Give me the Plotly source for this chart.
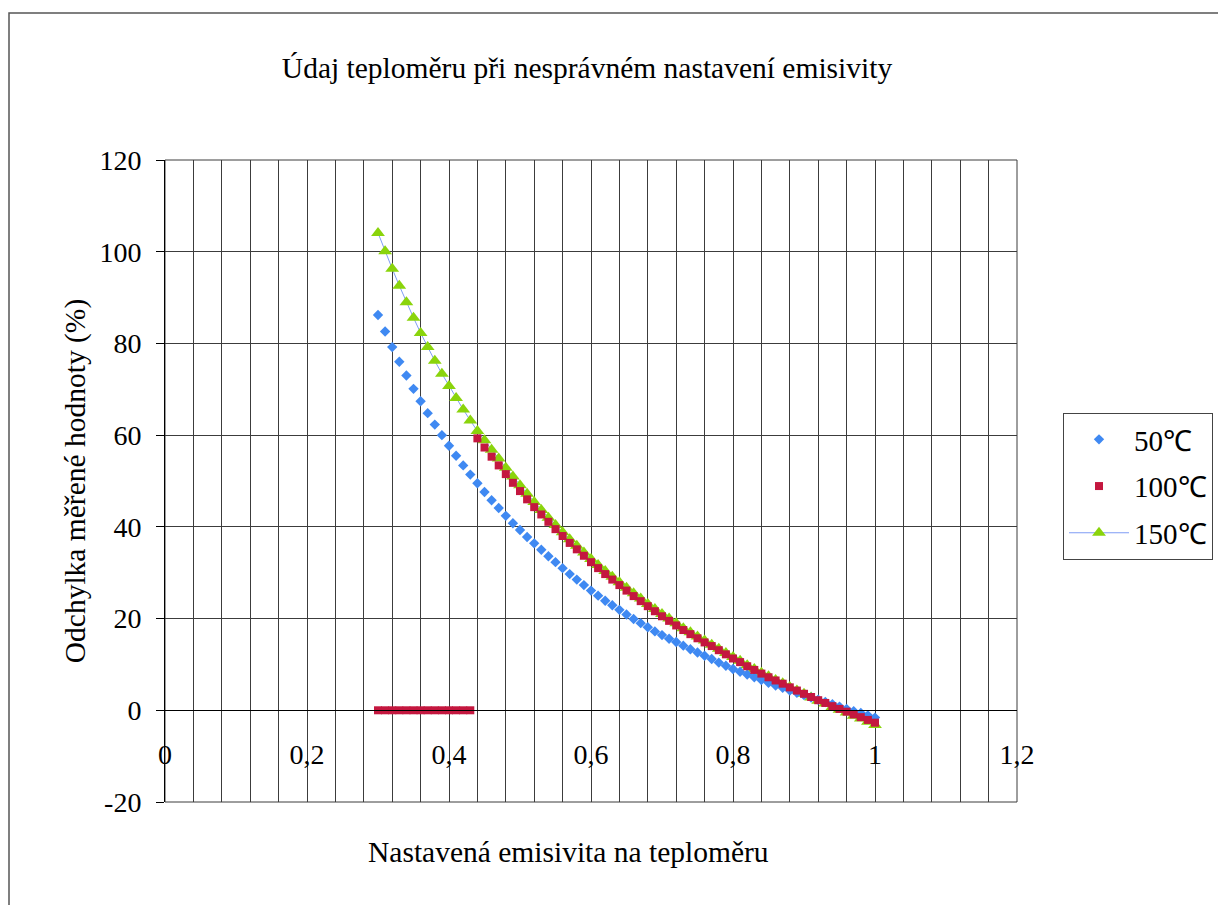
import plotly.graph_objects as go

# ---- data ----
emisivita = [0.30, 0.31, 0.32, 0.33, 0.34, 0.35, 0.36, 0.37, 0.38, 0.39,
             0.40, 0.41, 0.42, 0.43, 0.44, 0.45, 0.46, 0.47, 0.48, 0.49,
             0.50, 0.51, 0.52, 0.53, 0.54, 0.55, 0.56, 0.57, 0.58, 0.59,
             0.60, 0.61, 0.62, 0.63, 0.64, 0.65, 0.66, 0.67, 0.68, 0.69,
             0.70, 0.71, 0.72, 0.73, 0.74, 0.75, 0.76, 0.77, 0.78, 0.79,
             0.80, 0.81, 0.82, 0.83, 0.84, 0.85, 0.86, 0.87, 0.88, 0.89,
             0.90, 0.91, 0.92, 0.93, 0.94, 0.95, 0.96, 0.97, 0.98, 0.99,
             1.00]

odchylka_50 = [86.2, 82.6, 79.2, 76.0, 73.0, 70.1, 67.4, 64.8, 62.3, 60.0,
               57.7, 55.5, 53.4, 51.4, 49.5, 47.6, 45.8, 44.1, 42.4, 40.8,
               39.3, 37.8, 36.4, 35.0, 33.6, 32.3, 31.0, 29.7, 28.5, 27.3,
               26.1, 25.0, 23.9, 22.9, 21.9, 20.9, 19.9, 19.0, 18.1, 17.2,
               16.4, 15.6, 14.9, 14.1, 13.3, 12.6, 11.9, 11.2, 10.4, 9.7,
               9.0, 8.4, 7.8, 7.2, 6.6, 6.0, 5.4, 4.9, 4.3, 3.8,
               3.3, 2.8, 2.3, 1.8, 1.3, 0.8, 0.3, -0.2, -0.6, -1.1,
               -1.6]

odchylka_100 = [0, 0, 0, 0, 0, 0, 0, 0, 0, 0,
                0, 0, 0, 0, 59.3, 57.3, 55.3, 53.4, 51.5, 49.6,
                47.8, 46.0, 44.3, 42.7, 41.1, 39.5, 38.0, 36.5, 35.1, 33.7,
                32.3, 31.0, 29.7, 28.5, 27.3, 26.1, 24.9, 23.8, 22.7, 21.6,
                20.5, 19.5, 18.5, 17.5, 16.6, 15.7, 14.8, 14.0, 13.1, 12.2,
                11.3, 10.5, 9.6, 8.8, 8.0, 7.2, 6.5, 5.8, 5.0, 4.3,
                3.6, 2.9, 2.2, 1.6, 0.9, 0.3, -0.3, -0.9, -1.5, -2.1,
                -2.7]

odchylka_150 = [104.1, 100.1, 96.3, 92.6, 89.0, 85.6, 82.3, 79.2, 76.2, 73.4,
                70.7, 68.1, 65.6, 63.2, 60.9, 58.9, 56.8, 54.9, 52.9, 51.0,
                49.1, 47.2, 45.4, 43.7, 42.0, 40.4, 38.8, 37.3, 35.9, 34.4,
                33.0, 31.7, 30.4, 29.1, 27.9, 26.7, 25.5, 24.4, 23.2, 22.1,
                21.0, 20.0, 19.0, 17.9, 17.0, 16.1, 15.2, 14.3, 13.4, 12.5,
                11.6, 10.8, 9.8, 9.0, 8.2, 7.4, 6.6, 5.9, 5.1, 4.3,
                3.6, 2.8, 2.1, 1.5, 0.7, 0.1, -0.5, -1.2, -1.8, -2.5,
                -3.2]

x_tick_vals = [0, 0.2, 0.4, 0.6, 0.8, 1.0, 1.2]
x_tick_text = ["0", "0,2", "0,4", "0,6", "0,8", "1", "1,2"]
y_tick_vals = [-20, 0, 20, 40, 60, 80, 100, 120]
y_tick_text = ["-20", "0", "20", "40", "60", "80", "100", "120"]

FONT = "'Liberation Serif', 'Times New Roman', serif"
GRID = "#3c3c3c"

fig = go.Figure()

fig.add_trace(go.Scatter(
    x=emisivita, y=odchylka_150, name="150℃", mode="lines+markers",
    line=dict(color="#7f9cf5", width=1),
    marker=dict(symbol="triangle-up", size=12, color="#8ad40c"),
    legendgroup="c", legendrank=3))
fig.add_trace(go.Scatter(
    x=emisivita, y=odchylka_50, name="50℃", mode="markers",
    marker=dict(symbol="diamond", size=8, color="#3f89f2"),
    legendgroup="a", legendrank=1))
fig.add_trace(go.Scatter(
    x=emisivita, y=odchylka_100, name="100℃", mode="markers",
    marker=dict(symbol="square", size=8, color="#c4173f"),
    legendgroup="b", legendrank=2))

# page body adds an 8px offset; figure coordinates = screen coordinates - 8
OFF = 8
W, H = 1226 - OFF, 905 - OFF
PL, PR, PT, PB = 165 - OFF, 1017 - OFF, 160 - OFF, 802 - OFF  # plot area
L, R, T, B = PL, W - PR, PT, H - PB
PW, PH = PR - PL, PB - PT

fig.update_layout(
    width=W, height=H,
    margin=dict(l=L, r=R, t=T, b=B, autoexpand=False),
    paper_bgcolor="white", plot_bgcolor="white",
    font=dict(family=FONT, size=28, color="black"),
    title=dict(text="Údaj teploměru při nesprávném nastavení emisivity",
               x=(587 - OFF) / W, xref="container", xanchor="center",
               y=1 - (68 - OFF) / H, yref="container", yanchor="middle",
               font=dict(family=FONT, size=29.5, color="black")),
    xaxis=dict(range=[0, 1.2], anchor="free", position=20 / 140,
               showline=True, linecolor="black", linewidth=1,
               tickvals=x_tick_vals, ticktext=x_tick_text, ticks="",
               ticklabelstandoff=19,
               tickfont=dict(family=FONT, size=28),
               showgrid=True, gridcolor=GRID, gridwidth=1,
               minor=dict(dtick=0.04, tick0=0, showgrid=True,
                          gridcolor=GRID, gridwidth=1),
               zeroline=False, automargin=False),
    yaxis=dict(range=[-20, 120], showline=True, linecolor="black", linewidth=1,
               ticks="outside", ticklen=8, tickcolor="black",
               tickvals=y_tick_vals, ticktext=y_tick_text,
               ticklabelstandoff=9,
               tickfont=dict(family=FONT, size=28),
               showgrid=True, gridcolor=GRID, gridwidth=1,
               zeroline=False, automargin=False,
               title=dict(text="Odchylka měřené hodnoty (%)",
                          standoff=5, font=dict(family=FONT, size=29.5))),
    annotations=[
        dict(text="Nastavená emisivita na teploměru",
             xref="paper", yref="paper",
             x=(568 - 165) / PW, y=(802 - 852) / PH,
             xanchor="center", yanchor="middle", showarrow=False,
             font=dict(family=FONT, size=29.5, color="black")),
    ],
    legend=dict(x=(1063 - 165) / PW, y=(802 - 413) / PH,
                xanchor="left", yanchor="top",
                bordercolor="#444", borderwidth=1, bgcolor="white",
                font=dict(family=FONT, size=29),
                tracegroupgap=6, itemwidth=60),
    showlegend=True,
    shapes=[
        dict(type="rect", xref="paper", yref="paper", x0=0, x1=1, y0=0, y1=1,
             line=dict(color=GRID, width=1), layer="below"),
        dict(type="rect", xref="paper", yref="paper",
             x0=(9 - 165) / PW, x1=1.3,
             y0=-0.3, y1=(802 - 13) / PH,
             line=dict(color="#555", width=1.5)),
    ],
)

fig.write_html("out.html")
